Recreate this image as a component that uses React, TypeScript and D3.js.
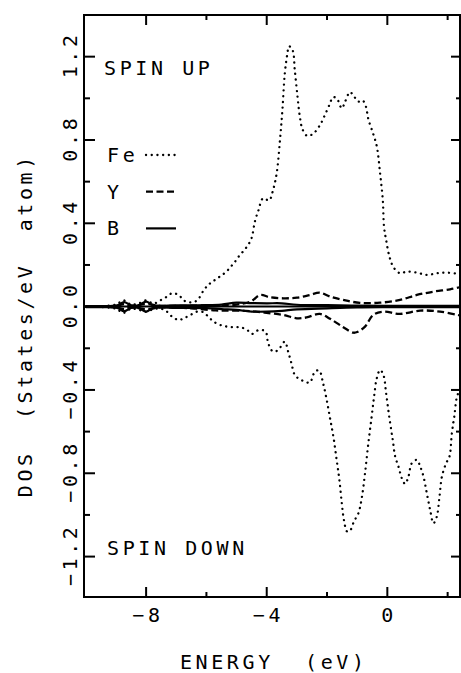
import React from "react";
import * as d3 from "d3";

const width = 461;
const height = 673;
const margin = { top: 15, right: 1, bottom: 76, left: 84 };

// energy (eV), DOS (states/eV atom)
const feUp: [number, number][] = [
  [-10, 0], [-9.5, 0.002], [-9.0, 0.01], [-8.75, 0.03], [-8.5, 0.01], [-8.25, 0.015],
  [-8.0, 0.03], [-7.75, 0.015], [-7.53, 0.03], [-7.31, 0.048], [-7.14, 0.064], [-6.92, 0.056],
  [-6.75, 0.03], [-6.53, 0.02], [-6.31, 0.03], [-6.07, 0.083], [-5.9, 0.109], [-5.72, 0.128],
  [-5.53, 0.147], [-5.34, 0.168], [-5.17, 0.195], [-5.03, 0.22], [-4.89, 0.248], [-4.74, 0.272],
  [-4.6, 0.3], [-4.5, 0.33], [-4.39, 0.41], [-4.28, 0.46], [-4.12, 0.52], [-3.92, 0.51],
  [-3.79, 0.56], [-3.67, 0.64], [-3.56, 0.8], [-3.48, 0.944], [-3.4, 1.12], [-3.32, 1.21],
  [-3.26, 1.25], [-3.14, 1.23], [-3.07, 1.136], [-2.98, 1.01], [-2.9, 0.91], [-2.81, 0.85],
  [-2.66, 0.82], [-2.46, 0.83], [-2.24, 0.87], [-2.07, 0.92], [-1.9, 0.976], [-1.81, 1.005],
  [-1.68, 1.0], [-1.51, 0.952], [-1.4, 0.984], [-1.24, 1.03], [-1.11, 1.01], [-0.96, 0.984],
  [-0.82, 0.99], [-0.71, 0.96], [-0.63, 0.9], [-0.47, 0.83], [-0.35, 0.77], [-0.24, 0.64],
  [-0.15, 0.51], [-0.11, 0.384], [-0.04, 0.32], [0.07, 0.24], [0.2, 0.19], [0.42, 0.16],
  [0.64, 0.168], [0.98, 0.163], [1.31, 0.152], [1.64, 0.16], [1.97, 0.163], [2.4, 0.157],
];

const feDown: [number, number][] = [
  [-10, 0], [-9.5, -0.002], [-9.0, -0.01], [-8.75, -0.03], [-8.5, -0.01], [-8.25, -0.015],
  [-8.0, -0.025], [-7.75, -0.012], [-7.5, -0.01], [-7.31, -0.024], [-7.14, -0.048], [-6.92, -0.064],
  [-6.75, -0.056], [-6.53, -0.04], [-6.31, -0.024], [-6.1, -0.027], [-5.92, -0.051], [-5.76, -0.072],
  [-5.54, -0.088], [-5.32, -0.096], [-5.09, -0.099], [-4.87, -0.099], [-4.65, -0.112], [-4.49, -0.131],
  [-4.26, -0.112], [-4.04, -0.12], [-3.95, -0.176], [-3.79, -0.216], [-3.62, -0.208], [-3.4, -0.168],
  [-3.29, -0.216], [-3.18, -0.272], [-3.07, -0.328], [-2.9, -0.349], [-2.73, -0.36], [-2.57, -0.365],
  [-2.4, -0.312], [-2.26, -0.307], [-2.13, -0.368], [-2.01, -0.448], [-1.9, -0.536], [-1.79, -0.624],
  [-1.68, -0.736], [-1.59, -0.832], [-1.51, -0.944], [-1.44, -1.024], [-1.33, -1.08], [-1.22, -1.072],
  [-1.11, -1.032], [-0.96, -0.992], [-0.85, -0.92], [-0.74, -0.8], [-0.63, -0.656], [-0.52, -0.528],
  [-0.44, -0.432], [-0.35, -0.344], [-0.24, -0.304], [-0.13, -0.328], [-0.04, -0.416], [0.07, -0.536],
  [0.18, -0.64], [0.26, -0.72], [0.37, -0.768], [0.48, -0.824], [0.59, -0.851], [0.7, -0.816],
  [0.81, -0.752], [0.98, -0.736], [1.09, -0.768], [1.2, -0.816], [1.31, -0.896], [1.42, -0.976],
  [1.53, -1.04], [1.64, -1.008], [1.73, -0.912], [1.81, -0.816], [1.95, -0.752], [2.06, -0.72],
  [2.14, -0.608], [2.22, -0.528], [2.31, -0.432], [2.4, -0.4],
];

const yUp: [number, number][] = [
  [-10, 0], [-9.0, 0.003], [-8.73, 0.012], [-8.5, 0.004], [-8.0, 0.012], [-7.5, 0.004],
  [-6.0, 0.006], [-5.0, 0.01], [-4.54, 0.024], [-4.21, 0.056], [-3.9, 0.045], [-3.45, 0.04],
  [-3.0, 0.043], [-2.57, 0.056], [-2.24, 0.067], [-1.9, 0.048], [-1.46, 0.032], [-0.91, 0.018],
  [-0.24, 0.019], [0.42, 0.032], [0.98, 0.056], [1.53, 0.072], [2.08, 0.083], [2.4, 0.093],
];

const yDown: [number, number][] = [
  [-10, 0], [-9.0, -0.003], [-8.73, -0.012], [-8.5, -0.004], [-8.0, -0.012], [-7.5, -0.004],
  [-6.5, -0.008], [-5.7, -0.018], [-5.2, -0.019], [-4.7, -0.02], [-4.34, -0.024], [-3.87, -0.032],
  [-3.45, -0.04], [-3.0, -0.056], [-2.68, -0.052], [-2.24, -0.035], [-1.9, -0.058], [-1.46, -0.099],
  [-1.13, -0.125], [-1.0, -0.122], [-0.74, -0.096], [-0.47, -0.04], [-0.13, -0.024], [0.42, -0.035],
  [1.09, -0.019], [1.75, -0.024], [2.4, -0.042],
];

const bUp: [number, number][] = [
  [-10, 0.002], [-9.2, 0.003], [-8.95, 0.006], [-8.73, 0.022], [-8.5, 0.006], [-8.25, 0.006],
  [-8.0, 0.024], [-7.75, 0.006], [-7.0, 0.006], [-6.0, 0.007], [-5.5, 0.01], [-5.0, 0.019],
  [-4.5, 0.017], [-4.0, 0.016], [-3.5, 0.016], [-3.0, 0.009], [-2.0, 0.007], [-1.0, 0.005],
  [0, 0.004], [1.0, 0.004], [2.4, 0.004],
];

const bDown: [number, number][] = [
  [-10, -0.002], [-9.2, -0.003], [-8.95, -0.006], [-8.73, -0.022], [-8.5, -0.006], [-8.25, -0.006],
  [-8.0, -0.024], [-7.75, -0.006], [-7.0, -0.006], [-6.0, -0.007], [-5.5, -0.012], [-5.0, -0.016],
  [-4.5, -0.024], [-4.0, -0.024], [-3.5, -0.02], [-3.0, -0.013], [-2.0, -0.008], [-1.0, -0.004],
  [0, -0.003], [1.0, -0.003], [2.4, -0.003],
];

const xMajor = [-8, -4, 0];
const xMinor = [-6, -2, 2];
const yMajor = [-1.2, -0.8, -0.4, 0, 0.4, 0.8, 1.2];
const yMinor = [-1.0, -0.6, -0.2, 0.2, 0.6, 1.0];
const legendItems = ["Fe", "Y", "B"];

const font = "'DejaVu Sans Mono', monospace";
const fontSize = 20;
const spacing = "3.6px";
const half = 1.8; // half the letter spacing, keeps centred text centred

export default function App() {
  const x = d3.scaleLinear().domain([-10.06, 2.41]).range([margin.left, width - margin.right]);
  const y = d3.scaleLinear().domain([-1.394, 1.4]).range([height - margin.bottom, margin.top]);

  const line = d3
    .line<[number, number]>()
    .x((d) => x(d[0]))
    .y((d) => y(d[1]))
    .curve(d3.curveCatmullRom.alpha(0.5));

  const x0 = margin.left;
  const x1 = width - margin.right;
  const y0 = margin.top;
  const y1 = height - margin.bottom;

  const dotted = { fill: "none", stroke: "#000", strokeWidth: 2.3, strokeLinecap: "round" as const, strokeDasharray: "0.1 5.6" };
  const dashed = { fill: "none", stroke: "#000", strokeWidth: 2.3, strokeDasharray: "7 3.5" };
  const solid = { fill: "none", stroke: "#000", strokeWidth: 2.2 };
  const styles = [dotted, dashed, solid];

  const fmt = d3.format(".1f");
  const textProps = { fontFamily: font, fontSize, letterSpacing: spacing };

  return (
    <svg width={width} height={height} style={{ position: "absolute", left: 0, top: 0, background: "#fff" }}>
      {/* curves */}
      <path d={line(feUp) || ""} {...dotted} />
      <path d={line(feDown) || ""} {...dotted} />
      <path d={line(yUp) || ""} {...dashed} />
      <path d={line(yDown) || ""} {...dashed} />
      <path d={line(bUp) || ""} {...solid} />
      <path d={line(bDown) || ""} {...solid} />
      <line x1={x0} x2={x1} y1={y(0)} y2={y(0)} stroke="#000" strokeWidth={2} />

      {/* frame */}
      <rect x={x0} y={y0} width={x1 - x0} height={y1 - y0} fill="none" stroke="#000" strokeWidth={2} />

      {/* x ticks */}
      {xMajor.map((v) => (
        <g key={"xM" + v}>
          <line x1={x(v)} x2={x(v)} y1={y1} y2={y1 - 10} stroke="#000" strokeWidth={2} />
          <line x1={x(v)} x2={x(v)} y1={y0} y2={y0 + 10} stroke="#000" strokeWidth={2} />
          <text x={x(v)} y={y1 + 18} dx={half} textAnchor="middle" dominantBaseline="central" {...textProps}>
            {d3.format("d")(v)}
          </text>
        </g>
      ))}
      {xMinor.map((v) => (
        <g key={"xm" + v}>
          <line x1={x(v)} x2={x(v)} y1={y1} y2={y1 - 5} stroke="#000" strokeWidth={2} />
          <line x1={x(v)} x2={x(v)} y1={y0} y2={y0 + 5} stroke="#000" strokeWidth={2} />
        </g>
      ))}

      {/* y ticks */}
      {yMajor.map((v) => (
        <g key={"yM" + v}>
          <line x1={x0} x2={x0 + 11} y1={y(v)} y2={y(v)} stroke="#000" strokeWidth={2} />
          <line x1={x1} x2={x1 - 9} y1={y(v)} y2={y(v)} stroke="#000" strokeWidth={2} />
          <text
            transform={`translate(70,${y(v)}) rotate(-90)`}
            dx={half}
            textAnchor="middle"
            dominantBaseline="central"
            {...textProps}
          >
            {fmt(v)}
          </text>
        </g>
      ))}
      {yMinor.map((v) => (
        <g key={"ym" + v}>
          <line x1={x0} x2={x0 + 6} y1={y(v)} y2={y(v)} stroke="#000" strokeWidth={2} />
          <line x1={x1} x2={x1 - 4} y1={y(v)} y2={y(v)} stroke="#000" strokeWidth={2} />
        </g>
      ))}

      {/* axis titles */}
      <text x={(x0 + x1) / 2} y={662} dx={half} textAnchor="middle" dominantBaseline="central" {...textProps} style={{ whiteSpace: "pre" }}>
        {"ENERGY  (eV)"}
      </text>
      <text
        transform={`translate(25,327) rotate(-90)`}
        dx={half}
        textAnchor="middle"
        dominantBaseline="central"
        {...textProps}
        style={{ whiteSpace: "pre" }}
      >
        {"DOS  (States/eV  atom)"}
      </text>

      {/* annotations */}
      <text x={104} y={68} dominantBaseline="central" {...textProps}>
        SPIN UP
      </text>
      <text x={107} y={548} dominantBaseline="central" {...textProps}>
        SPIN DOWN
      </text>

      {/* legend */}
      {legendItems.map((name, i) => {
        const ly = 155 + i * 36.7;
        return (
          <g key={name}>
            <text x={107} y={ly} dominantBaseline="central" {...textProps}>
              {name}
            </text>
            <line x1={146} x2={176} y1={ly} y2={ly} {...styles[i]} />
          </g>
        );
      })}
    </svg>
  );
}
